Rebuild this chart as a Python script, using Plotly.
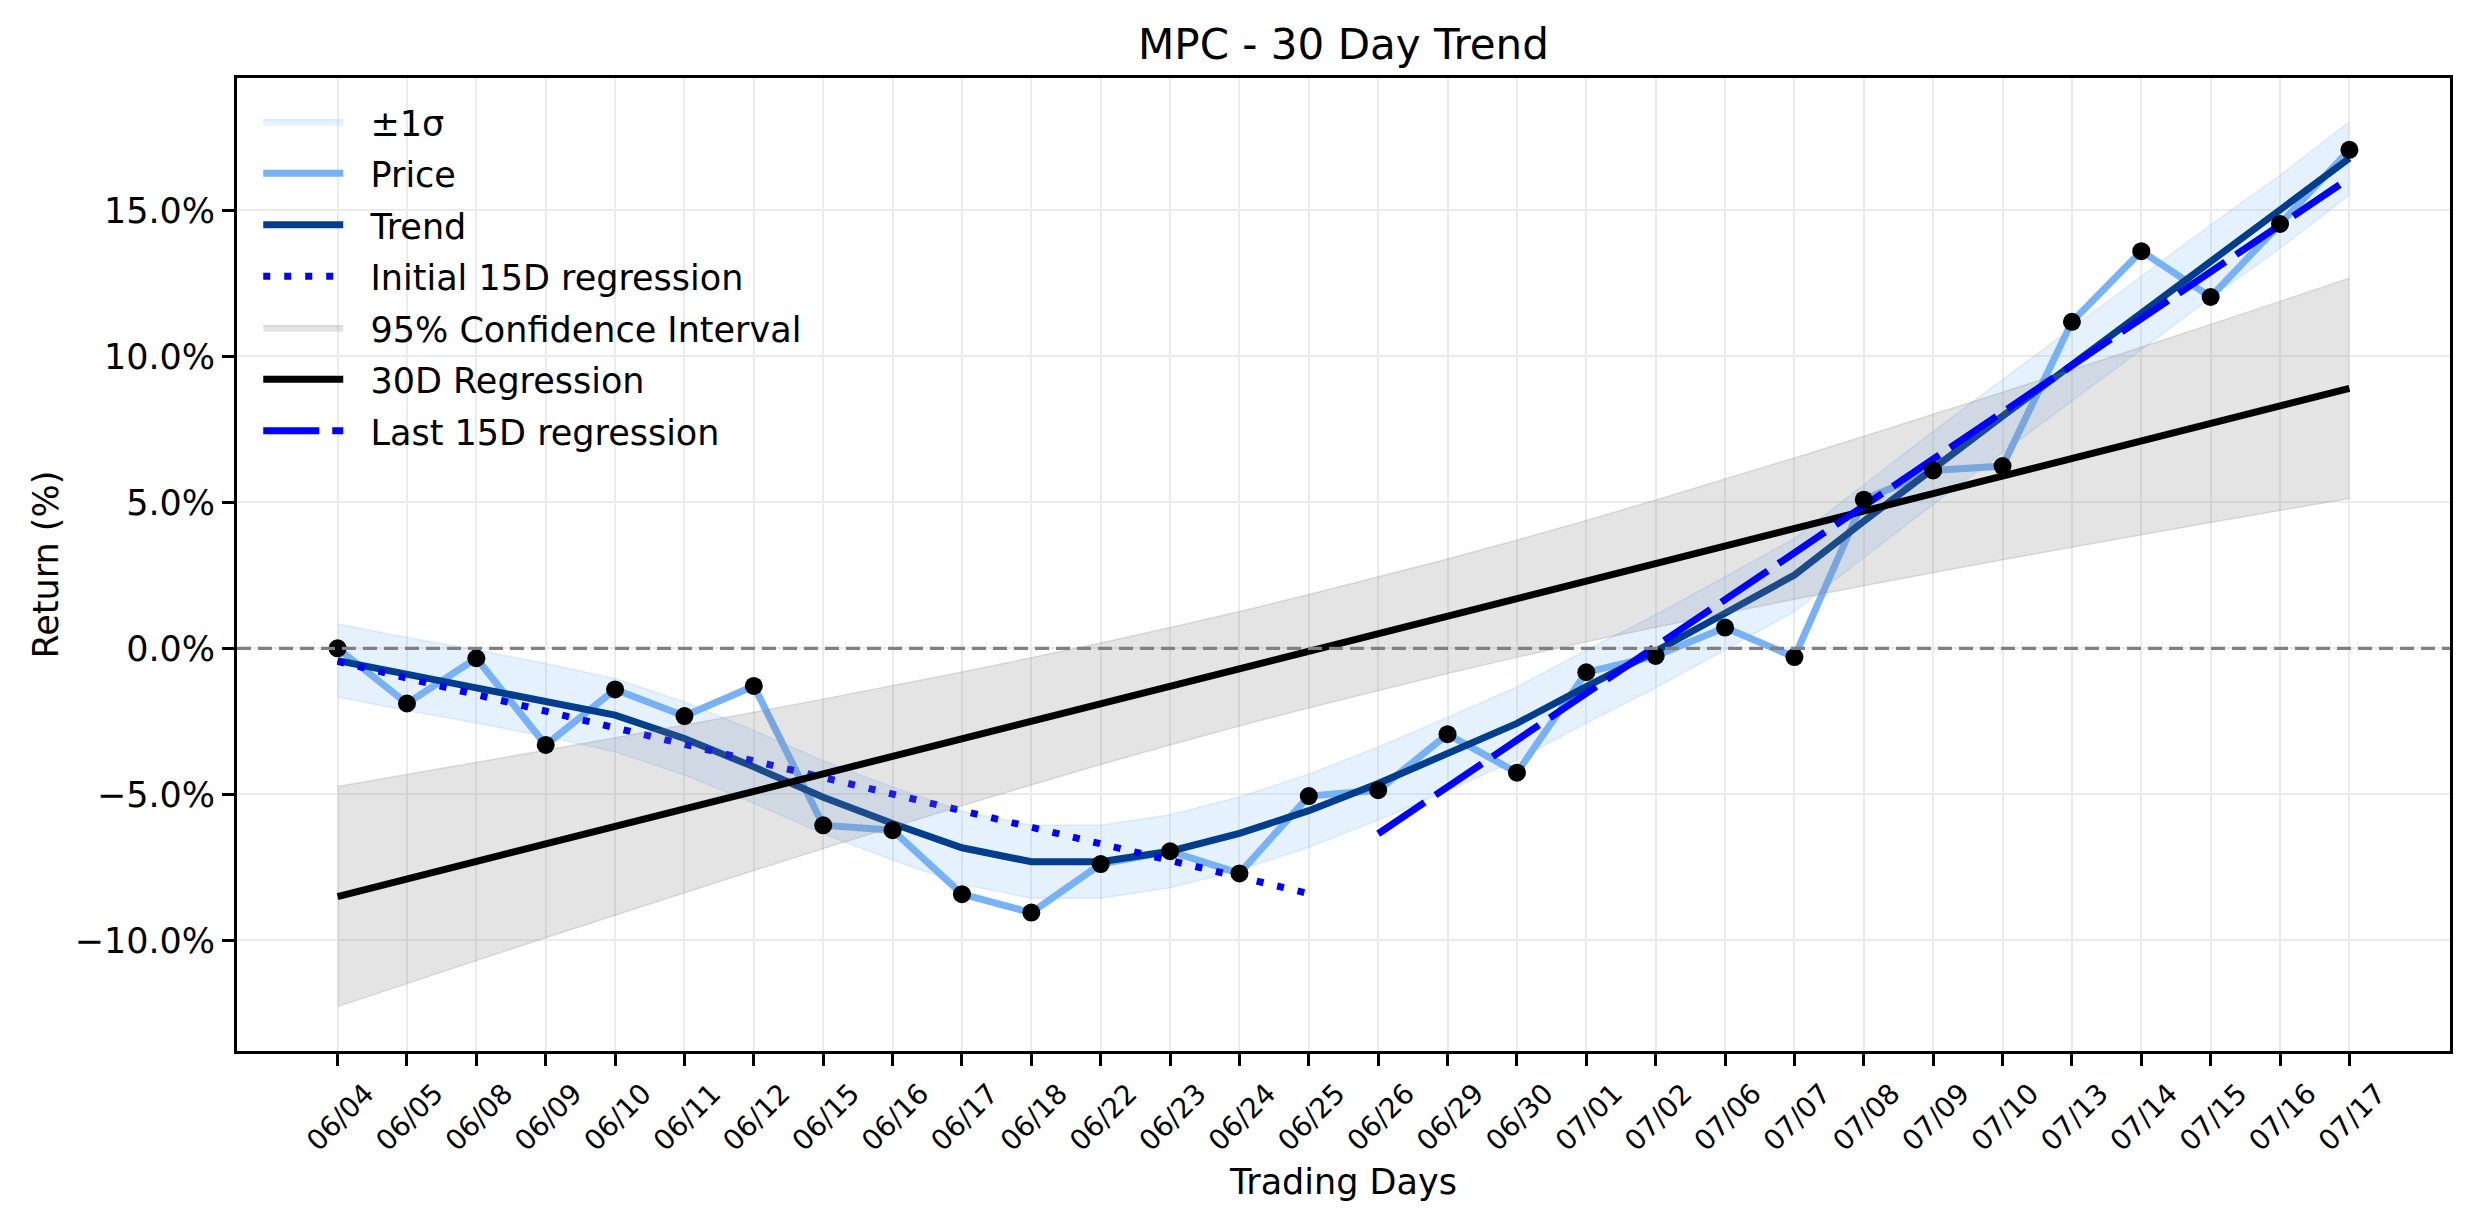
import plotly.graph_objects as go

# ---------------- data ----------------
dates = ["06/04", "06/05", "06/08", "06/09", "06/10", "06/11", "06/12", "06/15", "06/16", "06/17",
         "06/18", "06/22", "06/23", "06/24", "06/25", "06/26", "06/29", "06/30", "07/01", "07/02",
         "07/06", "07/07", "07/08", "07/09", "07/10", "07/13", "07/14", "07/15", "07/16", "07/17"]

price_ret = [0.0, -1.89, -0.34, -3.31, -1.41, -2.32, -1.29, -6.06, -6.23, -8.42,
             -9.05, -7.39, -6.95, -7.71, -5.06, -4.86, -2.94, -4.26, -0.82, -0.26,
             0.71, -0.30, 5.09, 6.09, 6.24, 11.18, 13.60, 12.03, 14.53, 17.07]

trend_ret = [-0.42, -0.88, -1.31, -1.77, -2.29, -3.09, -4.06, -5.10, -6.00, -6.83,
             -7.31, -7.31, -6.95, -6.34, -5.56, -4.63, -3.62, -2.57, -1.31, -0.10,
             1.20, 2.51, 4.35, 6.18, 7.95, 9.71, 11.48, 13.25, 14.95, 16.78]

sigma_width = 1.25  # half width of the ±1σ band (%)

ci_upper = [-4.73, -4.32, -3.91, -3.49, -3.06, -2.63, -2.19, -1.74, -1.28, -0.81,
            -0.32, 0.18, 0.71, 1.26, 1.84, 2.44, 3.06, 3.71, 4.38, 5.08,
            5.79, 6.52, 7.26, 8.01, 8.77, 9.54, 10.31, 11.09, 11.88, 12.67]
ci_lower = [-12.27, -11.48, -10.69, -9.91, -9.14, -8.37, -7.61, -6.86, -6.12, -5.39,
            -4.68, -3.98, -3.31, -2.66, -2.04, -1.44, -0.86, -0.31, 0.22, 0.72,
            1.21, 1.68, 2.14, 2.59, 3.03, 3.46, 3.89, 4.31, 4.72, 5.13]

reg30_x = ["06/04", "07/17"]
reg30_y = [-8.5, 8.9]
init15_x = ["06/04", "06/25"]
init15_y = [-0.45, -8.4]
last15_x = ["06/26", "07/17"]
last15_y = [-6.35, 16.1]

ytick_vals = [-10, -5, 0, 5, 10, 15]
ytick_text = ["\u221210.0%", "\u22125.0%", "0.0%", "5.0%", "10.0%", "15.0%"]

# ---------------- figure ----------------
FONT = "DejaVu Sans"
LW = 7
GAP = "\u00a0\u00a0"  # spacing between legend handle and label
sig_up = [t + sigma_width for t in trend_ret]
sig_lo = [t - sigma_width for t in trend_ret]

fig = go.Figure()

# ±1σ band
fig.add_trace(go.Scatter(x=dates, y=sig_lo, mode="lines", line=dict(width=0, color="rgba(0,0,0,0)"),
                         showlegend=False, hoverinfo="skip"))
fig.add_trace(go.Scatter(x=dates, y=sig_up, mode="lines", fill="tonexty",
                         fillcolor="rgba(140,190,250,0.22)", line=dict(width=1.5, color="rgba(140,190,250,0.25)"),
                         name=GAP + "\u00b11\u03c3", legendrank=1, legendgroup="g1"))
fig.add_trace(go.Scatter(x=dates, y=sig_lo, mode="lines", line=dict(width=1.5, color="rgba(140,190,250,0.25)"),
                         showlegend=False, hoverinfo="skip"))
# Price
fig.add_trace(go.Scatter(x=dates, y=price_ret, mode="lines", line=dict(width=LW, color="#78b2f6"),
                         name=GAP + "Price", legendrank=2, legendgroup="g2"))
# Trend
fig.add_trace(go.Scatter(x=dates, y=trend_ret, mode="lines", line=dict(width=LW, color="#003d8d"),
                         name=GAP + "Trend", legendrank=3, legendgroup="g3"))
# Initial 15D regression
fig.add_trace(go.Scatter(x=init15_x, y=init15_y, mode="lines",
                         line=dict(width=LW, color="#0000ff", dash="7px,14px"),
                         name=GAP + "Initial 15D regression", legendrank=4, legendgroup="g4"))
# 95% CI
fig.add_trace(go.Scatter(x=dates, y=ci_lower, mode="lines", line=dict(width=1.5, color="rgba(128,128,128,0.22)"),
                         showlegend=False, hoverinfo="skip"))
fig.add_trace(go.Scatter(x=dates, y=ci_upper, mode="lines", fill="tonexty",
                         fillcolor="rgba(128,128,128,0.21)", line=dict(width=1.5, color="rgba(128,128,128,0.22)"),
                         name=GAP + "95% Confidence Interval", legendrank=5, legendgroup="g5"))
# 30D regression
fig.add_trace(go.Scatter(x=reg30_x, y=reg30_y, mode="lines", line=dict(width=LW, color="black"),
                         name=GAP + "30D Regression", legendrank=6, legendgroup="g6"))
# Last 15D regression
fig.add_trace(go.Scatter(x=last15_x, y=last15_y, mode="lines",
                         line=dict(width=LW, color="#0000ff", dash="56px,13px"),
                         name=GAP + "Last 15D regression", legendrank=7, legendgroup="g7"))
# points
fig.add_trace(go.Scatter(x=dates, y=price_ret, mode="markers", marker=dict(size=18, color="black"),
                         showlegend=False))

# zero line
fig.add_shape(type="line", xref="paper", x0=0, x1=1, yref="y", y0=0, y1=0,
              line=dict(color="rgba(128,128,128,1)", width=3.3, dash="14px,7px"), layer="above")

fig.update_layout(
    width=2474, height=1224,
    margin=dict(l=237, r=24, t=78, b=173),
    paper_bgcolor="white", plot_bgcolor="white",
    font=dict(family=FONT, size=35, color="black"),
    title=dict(text="MPC - 30 Day Trend", x=0.5, xref="paper", y=0.964, yanchor="middle",
               font=dict(size=42, family=FONT, color="black")),
    showlegend=True,
    legend=dict(x=0.0096, y=0.985, xanchor="left", yanchor="top", bgcolor="rgba(0,0,0,0)",
                font=dict(size=35, family=FONT), itemwidth=80, tracegroupgap=3,
                traceorder="grouped"),
    xaxis=dict(type="category", range=[-1.45, 30.45], tickmode="array", tickvals=dates, ticktext=dates,
               tickangle=-45, tickfont=dict(size=28, family=FONT), ticks="outside", ticklen=12,
               tickwidth=2.8, tickcolor="black", showgrid=True, gridcolor="#ebebeb", gridwidth=2.2,
               showline=True, linecolor="black", linewidth=2.8, mirror=True, zeroline=False,
               ticklabelshift=28,
               title=dict(text="Trading Days", font=dict(size=35, family=FONT), standoff=14)),
    yaxis=dict(range=[-13.79, 19.53], tickmode="array", tickvals=ytick_vals, ticktext=ytick_text,
               tickfont=dict(size=35, family=FONT), ticks="outside", ticklen=12, tickwidth=2.8,
               tickcolor="black", showgrid=True, gridcolor="#ebebeb", gridwidth=2.2,
               showline=True, linecolor="black", linewidth=2.8, mirror=True, zeroline=False,
               title=dict(text="Return (%)", font=dict(size=35, family=FONT), standoff=6)),
)

fig.write_html("out.html")
